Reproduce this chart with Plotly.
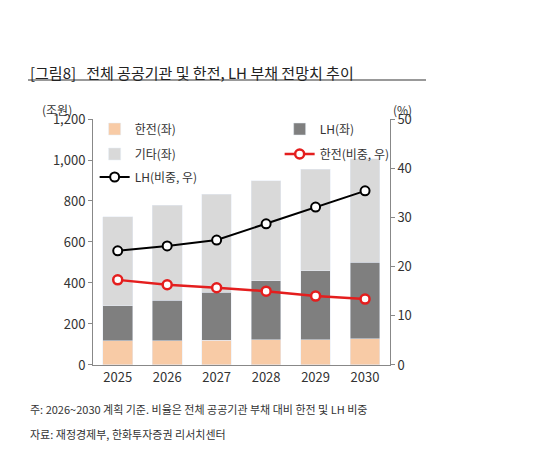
import plotly.graph_objects as go

years = ["2025", "2026", "2027", "2028", "2029", "2030"]
kepco = [117, 118, 120, 122, 122, 127]
lh = [171, 199, 236, 288, 337, 375]
other = [434, 463, 478, 488, 497, 503]
kepco_share = [17.3, 16.3, 15.7, 15.0, 14.0, 13.4]
lh_share = [23.2, 24.2, 25.4, 28.7, 32.1, 35.4]

F = "Noto Sans CJK KR"
fig = go.Figure()
fig.add_bar(x=years, y=kepco, name="한전(좌)", marker_color="#F8CBA6", width=0.6, legend="legend")
fig.add_bar(x=years, y=lh, name="LH(좌)", marker_color="#7F7F7F", width=0.6, legend="legend")
fig.add_bar(x=years, y=other, name="기타(좌)", marker_color="#D9D9D9", width=0.6, legend="legend2")
fig.add_scatter(x=years, y=kepco_share, name="한전(비중, 우)", yaxis="y2", mode="lines+markers",
                line=dict(color="#E41E1E", width=2.5),
                marker=dict(size=9, color="white", line=dict(color="#E41E1E", width=2.5)), legend="legend2")
fig.add_scatter(x=years, y=lh_share, name="LH(비중, 우)", yaxis="y2", mode="lines+markers",
                line=dict(color="#000000", width=2),
                marker=dict(size=9, color="white", line=dict(color="#000000", width=2)), legend="legend3")

leg = dict(orientation="h", entrywidth=140, bgcolor="rgba(0,0,0,0)", font=dict(family=F, size=12, color="#333"),
           xanchor="left", yanchor="middle", itemwidth=30, traceorder="normal")
fig.update_layout(
    width=559, height=454, margin=dict(l=0, r=0, t=0, b=0),
    paper_bgcolor="white", plot_bgcolor="white", barmode="stack",
    font=dict(family=F, size=12, color="#333"),
    xaxis=dict(domain=[0.152, 0.683], showline=True, linecolor="#888", ticks="", tickfont=dict(size=13),
               automargin=False),
    yaxis=dict(range=[0, 1200], dtick=200, tickformat=",", showline=True, linecolor="#888", ticks="outside",
               ticklen=4, tickcolor="#888", showgrid=False, tickfont=dict(size=13), automargin=False),
    yaxis2=dict(range=[0, 50], dtick=10, overlaying="y", side="right", showline=True, linecolor="#888",
                ticks="outside", ticklen=4, tickcolor="#888", showgrid=False, tickfont=dict(size=13),
                automargin=False),
    showlegend=True,
    legend=dict(leg, x=0.155, y=1 - 121 / 454),
    legend2=dict(leg, x=0.155, y=1 - 146 / 454),
    legend3=dict(leg, x=0.155, y=1 - 169 / 454),
)
fig.update_yaxes(domain=[0.2137, 0.7555])
fig.add_annotation(text="[그림8]   전체 공공기관 및 한전, LH 부채 전망치 추이", xref="paper", yref="paper",
                   x=20 / 559, y=1 - 52 / 454, showarrow=False, xanchor="left", font=dict(size=15, color="#222"))
fig.add_shape(type="line", xref="paper", yref="paper", x0=20 / 559, x1=418 / 559, y0=1 - 72 / 454, y1=1 - 72 / 454,
              line=dict(color="#777", width=1.5))
fig.add_annotation(text="(조원)", xref="paper", yref="paper", x=32 / 559, y=1 - 91 / 454, showarrow=False,
                   xanchor="left", font=dict(size=12))
fig.add_annotation(text="(%)", xref="paper", yref="paper", x=406 / 559, y=1 - 91 / 454, showarrow=False,
                   xanchor="right", font=dict(size=12))
fig.add_annotation(text="주: 2026~2030 계획 기준. 비율은 전체 공공기관 부채 대비 한전 및 LH 비중", xref="paper", yref="paper",
                   x=20 / 559, y=1 - 411 / 454, showarrow=False, xanchor="left", font=dict(size=11))
fig.add_annotation(text="자료: 재정경제부, 한화투자증권 리서치센터", xref="paper", yref="paper",
                   x=20 / 559, y=1 - 436 / 454, showarrow=False, xanchor="left", font=dict(size=11))
fig.write_html("out.html")
